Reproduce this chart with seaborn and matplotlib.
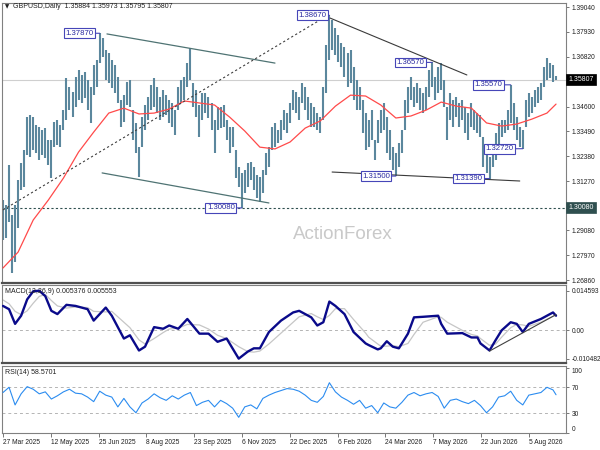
import numpy as np
import pandas as pd
import seaborn as sns
import matplotlib
matplotlib.use("Agg")
import matplotlib.pyplot as plt
from matplotlib import transforms

# ---------------- data ----------------
highs = [
 1.3043,1.3021,1.3199,1.2976,1.3021,1.3132,1.3208,1.3266,1.3413,1.3422,
 1.3413,1.3378,1.3369,1.3355,1.3364,1.3311,1.3311,1.3391,1.3400,1.3378,
 1.3444,1.3587,1.3547,1.3525,1.3592,1.3623,1.3601,1.3614,1.3578,1.3547,
 1.3645,1.3667,1.3787,1.3766,1.3712,1.3699,1.3667,1.3645,1.3592,1.3489,
 1.3511,1.3569,1.3578,1.3444,1.3386,1.3279,1.3413,1.3467,1.3502,1.3556,
 1.3587,1.3547,1.3502,1.3534,1.3511,1.3489,1.3476,1.3444,1.3547,1.3578,
 1.3592,1.3654,1.3721,1.3565,1.3534,1.3467,1.3520,1.3520,1.3502,1.3476,
 1.3400,1.3458,1.3458,1.3467,1.3400,1.3369,1.3369,1.3266,1.3190,1.3163,
 1.3177,1.3208,1.3212,1.3190,1.3155,1.3146,1.3177,1.3253,1.3279,1.3369,
 1.3386,1.3355,1.3400,1.3444,1.3431,1.3476,1.3534,1.3525,1.3502,1.3565,
 1.3547,1.3502,1.3476,1.3458,1.3431,1.3413,1.3547,1.3735,1.3867,1.3846,
 1.3810,1.3779,1.3743,1.3726,1.3699,1.3712,1.3636,1.3578,1.3547,1.3489,
 1.3431,1.3400,1.3444,1.3311,1.3400,1.3444,1.3476,1.3413,1.3355,1.3279,
 1.3253,1.3297,1.3355,1.3489,1.3547,1.3592,1.3547,1.3565,1.3543,1.3520,
 1.3547,1.3623,1.3657,1.3592,1.3636,1.3654,1.3578,1.3458,1.3520,1.3489,
 1.3502,1.3476,1.3489,1.3458,1.3431,1.3476,1.3444,1.3431,1.3422,1.3324,
 1.3266,1.3235,1.3279,1.3342,1.3386,1.3400,1.3400,1.3444,1.3557,1.3476,
 1.3413,1.3369,1.3355,1.3489,1.3520,1.3502,1.3534,1.3547,1.3565,1.3636,
 1.3676,1.3654,1.3645,1.3597]
lows = [
 1.2865,1.2874,1.2945,1.2718,1.2767,1.2918,1.3088,1.3101,1.3244,1.3235,
 1.3266,1.3253,1.3221,1.3244,1.3230,1.3199,1.3141,1.3279,1.3288,1.3279,
 1.3355,1.3400,1.3444,1.3413,1.3458,1.3489,1.3476,1.3498,1.3444,1.3386,
 1.3511,1.3547,1.3654,1.3681,1.3578,1.3565,1.3543,1.3520,1.3476,1.3369,
 1.3391,1.3467,1.3458,1.3311,1.3253,1.3146,1.3279,1.3355,1.3400,1.3444,
 1.3458,1.3431,1.3400,1.3413,1.3422,1.3386,1.3369,1.3333,1.3444,1.3476,
 1.3489,1.3547,1.3578,1.3458,1.3413,1.3324,1.3400,1.3431,1.3409,1.3355,
 1.3253,1.3355,1.3364,1.3369,1.3311,1.3253,1.3279,1.3141,1.3101,1.3008,
 1.3074,1.3101,1.3132,1.3088,1.3052,1.3034,1.3074,1.3155,1.3190,1.3266,
 1.3279,1.3297,1.3311,1.3355,1.3342,1.3386,1.3444,1.3431,1.3400,1.3476,
 1.3444,1.3400,1.3369,1.3369,1.3355,1.3342,1.3400,1.3520,1.3667,1.3712,
 1.3690,1.3659,1.3636,1.3592,1.3547,1.3565,1.3489,1.3444,1.3444,1.3342,
 1.3266,1.3279,1.3311,1.3221,1.3297,1.3342,1.3355,1.3253,1.3221,1.3177,
 1.3150,1.3190,1.3253,1.3355,1.3431,1.3489,1.3458,1.3476,1.3444,1.3431,
 1.3444,1.3502,1.3547,1.3489,1.3520,1.3534,1.3458,1.3311,1.3400,1.3369,
 1.3413,1.3369,1.3400,1.3342,1.3311,1.3369,1.3355,1.3342,1.3324,1.3190,
 1.3163,1.3139,1.3190,1.3221,1.3279,1.3324,1.3342,1.3355,1.3386,1.3355,
 1.3311,1.3279,1.3272,1.3369,1.3413,1.3431,1.3458,1.3476,1.3489,1.3547,
 1.3578,1.3587,1.3569,1.3580]

ma_idx = [0,5,10,15,20,25,30,35,40,45,50,55,60,65,70,75,80,85,90,95,
          100,105,110,115,120,125,130,135,140,145,150,155,160,165,170,175,180,183]
ma_vals = [1.2740,1.2811,1.2954,1.3043,1.3141,1.3257,1.3346,1.3431,1.3453,1.3427,
           1.3431,1.3449,1.3485,1.3476,1.3467,1.3413,1.3351,1.3279,1.3271,1.3302,
           1.3364,1.3396,1.3462,1.3511,1.3507,1.3467,1.3409,1.3418,1.3444,1.3480,
           1.3462,1.3453,1.3387,1.3373,1.3382,1.3404,1.3431,1.3471]

macd_idx = [0,2,4,6,8,10,12,14,16,18,21,24,28,30,34,36,40,42,45,47,50,53,55,58,61,65,
            68,71,74,78,81,83,85,88,92,96,98,102,104,106,108,110,113,116,120,121,124,
            125,127,129,131,134,136,139,144,145,147,152,155,157,158,161,163,165,168,
            170,172,174,178,182,183]
macd_main = [0.0090,0.0078,0.0024,0.0054,0.0114,0.0144,0.0146,0.0126,0.0072,0.0060,
             0.0094,0.0090,0.0078,0.0036,0.0084,0.0054,-0.0030,-0.0018,-0.0074,-0.0060,
             0.0012,0.0006,0.0018,0.0006,0.0042,-0.0012,-0.0012,-0.0042,-0.0030,-0.0104,
             -0.0078,-0.0066,-0.0066,-0.0006,0.0036,0.0066,0.0072,0.0048,0.0018,0.0030,
             0.0106,0.0090,0.0060,-0.0006,-0.0048,-0.0054,-0.0070,-0.0066,-0.0040,-0.0060,
             -0.0066,-0.0012,0.0048,0.0050,0.0054,0.0024,-0.0012,-0.0010,-0.0026,-0.0026,
             -0.0048,-0.0074,-0.0036,0.0000,0.0030,0.0024,-0.0006,0.0024,0.0042,0.0066,
             0.0054]
macd_signal = [0.0112,0.0098,0.0070,0.0058,0.0072,0.0100,0.0125,0.0132,0.0110,0.0090,
               0.0082,0.0086,0.0084,0.0070,0.0068,0.0070,0.0030,0.0010,-0.0035,-0.0050,
               -0.0030,-0.0008,0.0005,0.0008,0.0022,0.0020,0.0005,-0.0018,-0.0030,-0.0060,
               -0.0078,-0.0080,-0.0076,-0.0050,-0.0010,0.0030,0.0050,0.0062,0.0050,0.0040,
               0.0055,0.0080,0.0080,0.0040,-0.0010,-0.0025,-0.0050,-0.0058,-0.0058,-0.0056,
               -0.0060,-0.0048,-0.0015,0.0030,0.0050,0.0048,0.0030,0.0000,-0.0015,-0.0020,
               -0.0030,-0.0055,-0.0050,-0.0025,0.0010,0.0022,0.0020,0.0015,0.0030,0.0052,
               0.0056]

rsi_idx = list(range(0, 183, 2)) + [183]
rsi_vals = [62,70,43,60,71,67,60,63,52,57,63,67,61,60,55,48,64,58,55,40,
            53,40,31,46,52,60,54,50,57,52,58,62,42,47,50,40,50,45,38,24,
            40,43,37,53,58,62,65,68,67,64,58,50,47,56,77,63,55,50,44,50,
            38,42,31,46,40,38,47,58,62,57,60,62,56,38,50,52,48,45,50,42,
            31,40,55,57,64,50,43,58,60,62,70,66,58.57]

date_labels = ["27 Mar 2025", "12 May 2025", "25 Jun 2025", "8 Aug 2025",
               "23 Sep 2025", "6 Nov 2025", "22 Dec 2025", "6 Feb 2026",
               "24 Mar 2026", "7 May 2026", "22 Jun 2026", "5 Aug 2026"]

price_ticks = [1.39040, 1.37930, 1.36820, 1.34600, 1.33490, 1.32380,
               1.31270, 1.29080, 1.27970, 1.26860]

# swing-point tags: (bar index, price)
tag_points = [(32, 1.37870), (108, 1.38670), (79, 1.30080), (130, 1.31500),
              (142, 1.36570), (161, 1.31390), (168, 1.35570), (172, 1.32720)]

# drawn trend lines: (bar index, price) end points
upper_channel = [(34.4, 1.3784), (90.0, 1.3654)]
lower_channel = [(32.8, 1.3164), (88.0, 1.3030)]
rising_dotted = [(0.0, 1.2999), (106.5, 1.3859)]
falling_line = [(108.2, 1.3855), (153.5, 1.3601)]
base_line = [(108.9, 1.3168), (171.0, 1.3128)]
macd_trend = [(161, -0.0076), (183, 0.0058)]

last_price = 1.35807
support_price = 1.30080

# ---------------- style ----------------
sns.set_style("white")
plt.rcParams["font.family"] = ["Liberation Sans", "DejaVu Sans"]

W, H = 600, 450
fig = plt.figure(figsize=(6, 4.5), dpi=100)
L, R = 2, 566
ax1 = fig.add_axes([L / W, 1 - 283 / H, (R - L) / W, 280 / H])
ax2 = fig.add_axes([L / W, 1 - 363 / H, (R - L) / W, 78 / H])
ax3 = fig.add_axes([L / W, 1 - 433 / H, (R - L) / W, 67 / H])

XL = (-0.33, 186.3)
axes = [ax1, ax2, ax3]
for ax in axes:
    ax.set_xlim(*XL)
    ax.set_facecolor("white")
    for s in ax.spines.values():
        s.set_color("#808080")
        s.set_linewidth(0.8)
    ax.yaxis.tick_right()
    ax.tick_params(axis="y", which="both", direction="out", length=2.5, width=0.6,
                   color="#606060", labelsize=4.8, pad=1.5, labelcolor="#202020",
                   right=True, left=False)
for ax in (ax1, ax2):
    ax.spines["bottom"].set_color("#505050")
    ax.spines["bottom"].set_linewidth(1.6)
    ax.set_xticks([])

# ---------------- main price panel ----------------
bar_color = "#5b879d"
idx = np.arange(len(highs))
ax1.axhline(last_price, color="#cfcfcf", lw=0.8, zorder=0)
ax1.axhline(support_price, color="#2f4f4f", lw=0.8, ls=(0, (2, 2)), zorder=0.5)
ax1.vlines(idx, lows, highs, color=bar_color, lw=1.5, zorder=2)
sns.lineplot(x=ma_idx, y=ma_vals, ax=ax1, color="#ff4a4a", linewidth=0.9, zorder=3)

def seg(ax, pts, **kw):
    ax.plot([pts[0][0], pts[1][0]], [pts[0][1], pts[1][1]], **kw)

seg(ax1, upper_channel, color="#4f7373", lw=0.9, zorder=4)
seg(ax1, lower_channel, color="#4f7373", lw=0.9, zorder=4)
seg(ax1, rising_dotted, color="#404040", lw=0.8, ls=(0, (2, 2.2)), zorder=4)
seg(ax1, falling_line, color="#3a3a3a", lw=0.8, zorder=4)
seg(ax1, base_line, color="#3a3a3a", lw=0.8, zorder=4)

tag_offsets = [6, 3, 7, 6, 8, 7, 8, 9]
for (ti, tv), off in zip(tag_points, tag_offsets):
    ax1.annotate(f"{tv:.5f}", xy=(ti, tv), xytext=(-off, 0), textcoords="offset pixels",
                 ha="right", va="center", fontsize=5.6, color="#2a2aa0", zorder=6,
                 bbox=dict(boxstyle="square,pad=0.18", fc="white", ec="#4646b8", lw=0.8),
                 arrowprops=dict(arrowstyle="-", color="#4646b8", lw=0.8,
                                 shrinkA=0, shrinkB=0))

ax1.set_ylim(1.2673, 1.3922)
ax1.set_yticks(price_ticks)
ax1.set_yticklabels([f"{v:.5f}" for v in price_ticks])
ax1.set_xlabel("")
ax1.set_ylabel("")

btr = transforms.blended_transform_factory(ax1.transAxes, ax1.transData)
ax1.text(1.004, last_price, f"{last_price:.5f}", transform=btr, ha="left", va="center",
         fontsize=5, color="white", zorder=10, clip_on=False,
         bbox=dict(boxstyle="square,pad=0.3", fc="black", ec="black", lw=0.5))
ax1.text(1.004, support_price, f"{support_price:.5f}", transform=btr, ha="left",
         va="center", fontsize=5, color="white", zorder=10, clip_on=False,
         bbox=dict(boxstyle="square,pad=0.3", fc="#2f4f4f", ec="#2f4f4f", lw=0.5))

ax1.text(0.006, 0.986, "\u25bc", transform=ax1.transAxes, fontsize=4, va="center",
         ha="left", color="#202020", family=["DejaVu Sans"])
ax1.text(0.0195, 0.986, "GBPUSD,Daily  1.35884 1.35973 1.35795 1.35807",
         transform=ax1.transAxes, fontsize=5, va="center", ha="left", color="#202020")
ax1.text(0.605, 0.175, "ActionForex", transform=ax1.transAxes, fontsize=13.5,
         color="#c9c9c9", ha="center", va="center", zorder=1)

# ---------------- MACD panel ----------------
ax2.axhline(0, color="#b4b4b4", lw=0.7, ls=(0, (3, 3)), zorder=0)
sns.lineplot(x=macd_idx, y=macd_signal, ax=ax2, color="#c6c6c6", linewidth=0.9, zorder=2)
sns.lineplot(x=macd_idx, y=macd_main, ax=ax2, color="#0a0a8a", linewidth=1.7, zorder=3)
seg(ax2, macd_trend, color="#404040", lw=0.8, zorder=4)
ax2.set_ylim(-0.0120, 0.0167)
ax2.set_yticks([0.014593, 0.0, -0.010482])
ax2.set_yticklabels(["0.014593", "0.00", "-0.010482"])
ax2.set_xlabel("")
ax2.set_ylabel("")
ax2.set_xticks([])
ax2.text(0.006, 0.915, "MACD(12,26,9) 0.005376 0.005553", transform=ax2.transAxes,
         fontsize=5, va="center", ha="left", color="#202020")

# ---------------- RSI panel ----------------
ax3.axhline(70, color="#b4b4b4", lw=0.7, ls=(0, (3, 3)), zorder=0)
ax3.axhline(30, color="#b4b4b4", lw=0.7, ls=(0, (3, 3)), zorder=0)
sns.lineplot(x=rsi_idx, y=rsi_vals, ax=ax3, color="#2b8cf0", linewidth=0.8, zorder=3)
ax3.set_ylim(0.3, 102.6)
ax3.set_yticks([100, 70, 30, 0])
ax3.set_yticklabels(["100", "70", "30", "0"])
for lab in ax3.get_yticklabels():
    if lab.get_text() == "100":
        lab.set_va("top")
    elif lab.get_text() == "0":
        lab.set_va("bottom")
ax3.set_xlabel("")
ax3.set_ylabel("")
ax3.text(0.006, 0.91, "RSI(14) 58.5701", transform=ax3.transAxes,
         fontsize=5, va="center", ha="left", color="#202020")

date_pos = np.arange(len(date_labels)) * 15.82
ax3.set_xticks(date_pos)
ax3.set_xticklabels(date_labels)
ax3.tick_params(axis="x", direction="out", length=3, width=0.6, color="#606060",
                labelsize=4.8, pad=1.5, labelcolor="#202020", bottom=True)
for lab in ax3.get_xticklabels():
    lab.set_ha("left")

fig.savefig("out.png", dpi=100, facecolor="white")
